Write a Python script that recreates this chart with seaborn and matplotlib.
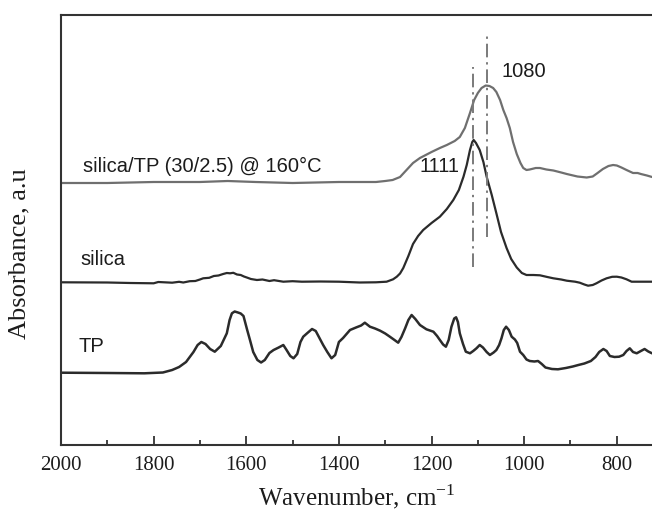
import numpy as np
import pandas as pd
import matplotlib
matplotlib.use("Agg")
import matplotlib.pyplot as plt
import seaborn as sns

# ---- data (wavenumber in cm-1, absorbance in arbitrary units) ----
wn_silica_tp = [2000, 1900, 1800, 1700, 1640, 1580, 1500, 1400, 1320, 1300, 1284, 1268,
                1250, 1240, 1225, 1200, 1182, 1167, 1150, 1139, 1128, 1117, 1108, 1100,
                1092, 1083, 1075, 1067, 1060, 1052, 1045, 1038, 1031, 1024, 1016, 1008,
                1002, 995, 988, 975, 966, 952, 937, 920, 908, 885, 865, 852, 843, 830,
                818, 808, 800, 790, 779, 765, 755, 748, 735, 724]
ab_silica_tp = [2.62, 2.62, 2.63, 2.63, 2.64, 2.63, 2.62, 2.63, 2.63, 2.64, 2.65, 2.68,
                2.77, 2.82, 2.87, 2.93, 2.97, 3.00, 3.04, 3.08, 3.17, 3.32, 3.45, 3.52,
                3.57, 3.595, 3.59, 3.57, 3.53, 3.45, 3.35, 3.27, 3.17, 3.03, 2.91, 2.82,
                2.77, 2.75, 2.755, 2.77, 2.77, 2.755, 2.745, 2.725, 2.71, 2.685, 2.675,
                2.685, 2.715, 2.76, 2.79, 2.80, 2.795, 2.775, 2.75, 2.72, 2.72, 2.71,
                2.695, 2.68]

wn_silica = [2000, 1900, 1850, 1800, 1790, 1760, 1745, 1736, 1722, 1710, 1700, 1693,
             1680, 1670, 1660, 1650, 1642, 1635, 1628, 1620, 1612, 1605, 1597, 1590,
             1577, 1565, 1550, 1540, 1520, 1500, 1480, 1440, 1400, 1355, 1320, 1297,
             1283, 1275, 1268, 1261, 1250, 1240, 1229, 1218, 1200, 1182, 1167, 1153,
             1141, 1131, 1124, 1117, 1112, 1109, 1104, 1096, 1088, 1081, 1070, 1060,
             1050, 1038, 1028, 1016, 1005, 995, 980, 966, 950, 937, 920, 908, 890, 880,
             870, 862, 852, 844, 833, 822, 810, 800, 790, 779, 768, 750, 724]
ab_silica = [1.627, 1.625, 1.62, 1.617, 1.63, 1.623, 1.632, 1.625, 1.638, 1.64, 1.655,
             1.667, 1.672, 1.69, 1.695, 1.71, 1.72, 1.717, 1.722, 1.705, 1.70, 1.685,
             1.672, 1.66, 1.65, 1.655, 1.64, 1.648, 1.633, 1.638, 1.633, 1.635, 1.633,
             1.625, 1.627, 1.633, 1.657, 1.683, 1.715, 1.77, 1.89, 2.01, 2.09, 2.15,
             2.22, 2.283, 2.36, 2.45, 2.55, 2.683, 2.80, 2.95, 3.03, 3.05, 3.02, 2.95,
             2.83, 2.683, 2.50, 2.317, 2.13, 1.97, 1.86, 1.775, 1.72, 1.70, 1.70,
             1.697, 1.68, 1.667, 1.655, 1.643, 1.633, 1.623, 1.605, 1.593, 1.60, 1.617,
             1.645, 1.667, 1.682, 1.683, 1.675, 1.657, 1.633, 1.633, 1.633]

wn_tp = [2000, 1900, 1820, 1780, 1760, 1745, 1730, 1714, 1705, 1697, 1688, 1678, 1668,
         1655, 1642, 1636, 1631, 1625, 1618, 1612, 1606, 1598, 1592, 1585, 1576, 1568,
         1560, 1550, 1541, 1530, 1520, 1513, 1505, 1498, 1490, 1483, 1477, 1468, 1458,
         1450, 1442, 1434, 1425, 1416, 1408, 1400, 1391, 1376, 1362, 1352, 1344, 1333,
         1322, 1311, 1300, 1290, 1280, 1272, 1265, 1257, 1250, 1243, 1235, 1225, 1211,
         1196, 1188, 1182, 1175, 1169, 1163, 1157, 1151, 1147, 1143, 1139, 1132, 1126,
         1117, 1110, 1103, 1096, 1089, 1081, 1074, 1066, 1060, 1054, 1049, 1044, 1039,
         1033, 1027, 1020, 1015, 1009, 1002, 995, 988, 978, 970, 962, 954, 940, 927,
         910, 895, 883, 870, 856, 846, 838, 829, 822, 815, 805, 795, 786, 779, 772,
         765, 757, 748, 740, 732, 724]
ab_tp = [0.723, 0.72, 0.717, 0.725, 0.75, 0.78, 0.83, 0.93, 1.00, 1.03, 1.01, 0.96,
         0.933, 0.99, 1.117, 1.25, 1.317, 1.335, 1.325, 1.315, 1.29, 1.15, 1.05, 0.93,
         0.85, 0.825, 0.85, 0.92, 0.95, 0.975, 1.00, 0.95, 0.89, 0.867, 0.91, 1.03,
         1.083, 1.12, 1.16, 1.14, 1.07, 1.00, 0.93, 0.867, 0.90, 1.03, 1.07, 1.15,
         1.177, 1.195, 1.223, 1.183, 1.165, 1.143, 1.115, 1.083, 1.05, 1.023, 1.08,
         1.167, 1.25, 1.30, 1.26, 1.20, 1.157, 1.133, 1.09, 1.05, 1.005, 0.983, 1.05,
         1.183, 1.265, 1.277, 1.23, 1.117, 1.01, 0.933, 0.917, 0.94, 0.967, 1.00,
         0.975, 0.93, 0.90, 0.925, 0.95, 1.00, 1.067, 1.15, 1.183, 1.15, 1.083, 1.055,
         1.02, 0.933, 0.90, 0.855, 0.84, 0.835, 0.84, 0.81, 0.775, 0.76, 0.757, 0.77,
         0.785, 0.80, 0.815, 0.84, 0.88, 0.93, 0.96, 0.94, 0.89, 0.88, 0.883, 0.90,
         0.94, 0.967, 0.93, 0.917, 0.94, 0.96, 0.935, 0.917]

peak_positions = [1111, 1080]
peak_labels = ["1111", "1080"]
peak_line_spans = [(1.78, 3.78), (2.083, 4.117)]

curve_labels = ["silica/TP (30/2.5) @ 160°C", "silica", "TP"]
xticks = [2000, 1800, 1600, 1400, 1200, 1000, 800]

# ---- figure ----
sns.set_style("ticks")
plt.rcParams["font.family"] = ["DejaVu Sans"]
plt.rcParams["mathtext.fontset"] = "custom"
plt.rcParams["mathtext.rm"] = "Liberation Serif"

fig = plt.figure(figsize=(6.52, 5.11), dpi=100)
ax = fig.add_axes([61 / 652, 66 / 511, 591 / 652, 430 / 511])

df_top = pd.DataFrame({"wn": wn_silica_tp, "ab": ab_silica_tp})
df_sil = pd.DataFrame({"wn": wn_silica, "ab": ab_silica})
df_tp = pd.DataFrame({"wn": wn_tp, "ab": ab_tp})

sns.lineplot(data=df_top, x="wn", y="ab", ax=ax, color="#6f6f6f", lw=1.6,
             estimator=None, sort=False)
sns.lineplot(data=df_sil, x="wn", y="ab", ax=ax, color="#2b2b2b", lw=1.6,
             estimator=None, sort=False)
sns.lineplot(data=df_tp, x="wn", y="ab", ax=ax, color="#2b2b2b", lw=1.8,
             estimator=None, sort=False)

for pos, (y0, y1) in zip(peak_positions, peak_line_spans):
    ax.vlines(pos, y0, y1, colors="#7a7a7a", lw=1.4, linestyles=(0, (7, 2.5, 1.2, 2.5)))

sans = "Liberation Sans"
tkw = dict(fontsize=14.5, family=sans, color="#1c1c1c", va="baseline", ha="left")
ax.text(1953, 2.735, curve_labels[0], **tkw)
ax.text(1958, 1.80, curve_labels[1], **tkw)
ax.text(1962, 0.933, curve_labels[2], **tkw)
ax.text(1225, 2.73, peak_labels[0], **tkw)
ax.text(1048, 3.677, peak_labels[1], **tkw)

ax.set_xlim(2000, 724)
ax.set_ylim(0, 4.30)
ax.set_xticks(xticks)
ax.set_xticks(np.arange(1900, 700, -200), minor=True)
ax.set_yticks([])

serif = "Liberation Serif"
ax.set_xticklabels([str(t) for t in xticks], fontsize=15, family=serif, color="#1c1c1c")
ax.tick_params(axis="x", which="major", direction="in", length=6.5, width=1.3,
               color="#333333", pad=8, top=False)
ax.tick_params(axis="x", which="minor", direction="in", length=3.3, width=1.3,
               color="#333333", top=False)

ax.set_xlabel(r"Wavenumber, cm$^{\mathregular{-1}}$", fontsize=18, family=serif,
              color="#1c1c1c", labelpad=5)
ax.set_ylabel("Absorbance, a.u", fontsize=19, family=serif, color="#1c1c1c")
ax.yaxis.set_label_coords(-0.051, 0.444)

for side in ["left", "bottom", "top"]:
    ax.spines[side].set_visible(True)
    ax.spines[side].set_color("#333333")
    ax.spines[side].set_linewidth(1.5)
ax.spines["right"].set_visible(False)

fig.savefig("out.png", dpi=100)
